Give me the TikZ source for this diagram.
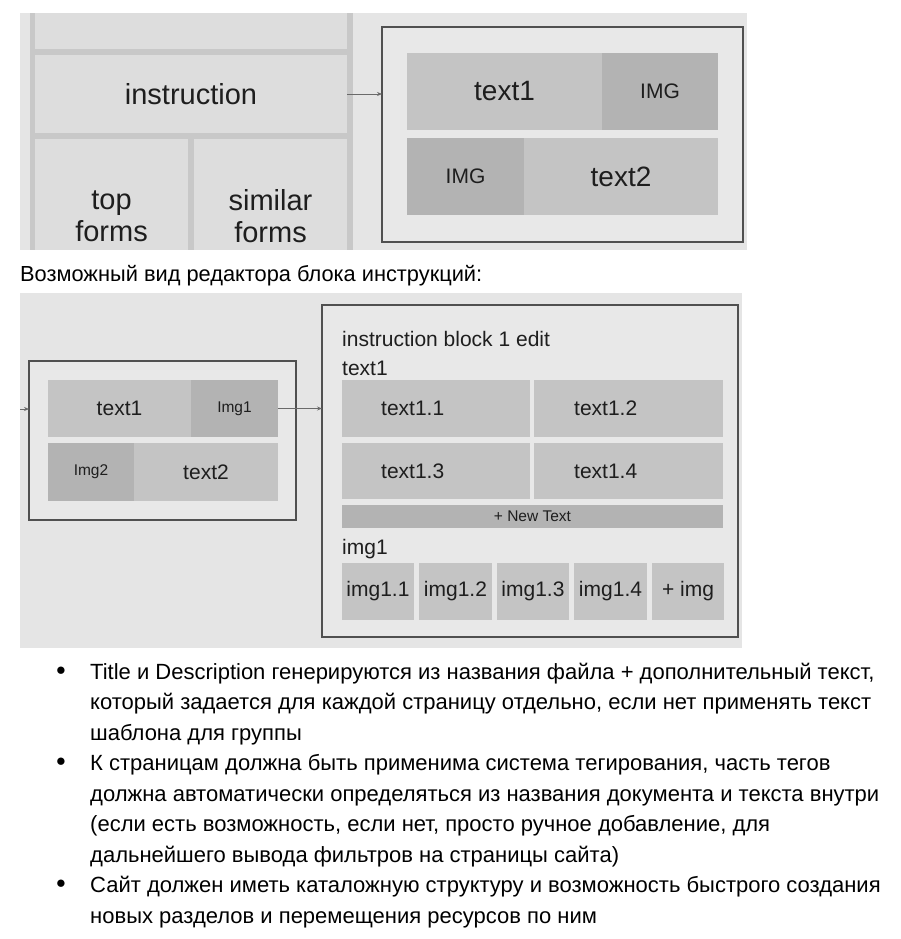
\documentclass[tikz,border=0pt]{standalone}
\usepackage{fontspec}
\setmainfont{Liberation Sans}
\usetikzlibrary{arrows.meta}
\definecolor{bgA}{HTML}{E5E5E5}
\definecolor{boxfill}{HTML}{E8E8E8}
\definecolor{colborder}{HTML}{C8C8C8}
\definecolor{colcell}{HTML}{DDDDDD}
\definecolor{txtcell}{HTML}{C4C4C4}
\definecolor{imgcell}{HTML}{B3B3B3}
\definecolor{frame}{HTML}{505050}
\definecolor{arrowc}{HTML}{6A6A6A}
\definecolor{ink}{HTML}{1E1E1E}
\tikzset{
  rc/.style={anchor=north west, inner sep=0pt, outer sep=0pt, draw=none, text=ink},
  tcell/.style={rc, fill=txtcell},
  icell/.style={rc, fill=imgcell},
  ccell/.style={rc, fill=colcell},
  framebox/.style={rc, fill=boxfill, draw=frame, line width=1.3pt},
  arr/.style={draw=arrowc, line width=0.8pt, -{Stealth[length=5pt,width=4pt]}},
  lbl/.style={inner sep=0pt, text=ink},
  big/.style={font=\fontsize{29}{32}\selectfont},
  mid/.style={font=\fontsize{28}{32}\selectfont},
  sm/.style={font=\fontsize{21}{24}\selectfont},
  ed/.style={font=\fontsize{21}{24}\selectfont},
  edsm/.style={font=\fontsize{15.5}{18}\selectfont},
  bl/.style={inner sep=0pt, anchor=base west, text=black, font=\fontsize{22}{26}\selectfont},
  dot/.style={inner sep=0pt, text=black, font=\fontsize{17}{18}\selectfont},
}
\begin{document}
\begin{tikzpicture}[x=1pt,y=-1pt]
\useasboundingbox (0,0) rectangle (901,939);
\fill[white] (0,0) rectangle (901,939);
% ---------- top panel ----------
\fill[bgA] (20,13) rectangle (747,250);
\fill[colborder] (30,13) rectangle (353,250);
\node[ccell, minimum width=312pt, minimum height=36pt] (topcell) at (35,13) {};
\node[ccell, big, minimum width=312pt, minimum height=78pt] (instr) at (35,55) {instruction};
\node[ccell, minimum width=153pt, minimum height=111pt] (topf) at (35,139) {};
\node[ccell, minimum width=153pt, minimum height=111pt] (simf) at (194,139) {};
\node[lbl, big, align=center] (topft) at (111.5,216) {top\\forms};
\node[lbl, big, align=center] (simft) at (270.5,216) {similar\\forms};
\node[framebox, minimum width=361pt, minimum height=215pt] (rbox) at (382,27) {};
\node[tcell, mid, minimum width=195pt, minimum height=77pt] (t1) at (407,53) {text1};
\node[icell, sm, minimum width=116pt, minimum height=77pt] (i1) at (602,53) {IMG};
\node[icell, sm, minimum width=117pt, minimum height=77pt] (i2) at (407,138) {IMG};
\node[tcell, mid, minimum width=194pt, minimum height=77pt] (t2) at (524,138) {text2};
\draw[arr] (instr.east) -- (instr.east -| rbox.west);
% ---------- caption ----------
\node[lbl, anchor=base west, text=black, font=\fontsize{21.8}{26}\selectfont] (cap) at (20,281) {Возможный вид редактора блока инструкций:};
% ---------- middle panel ----------
\fill[bgA] (20,293) rectangle (742,648);
\node[framebox, minimum width=267pt, minimum height=159pt] (lbox) at (29,361) {};
\node[tcell, ed, minimum width=143pt, minimum height=57pt] (mt1) at (48,380) {text1};
\node[icell, edsm, minimum width=87pt, minimum height=57pt] (mi1) at (191,380) {Img1};
\node[icell, edsm, minimum width=86pt, minimum height=58pt] (mi2) at (48,443) {Img2};
\node[tcell, ed, minimum width=144pt, minimum height=58pt] (mt2) at (134,443) {text2};
\node[framebox, minimum width=416pt, minimum height=332pt] (ebox) at (322,305) {};
\coordinate (instub) at (20,409);
\draw[arr] (instub) -- (instub -| lbox.west);
\draw[arr] (mi1.east) -- (mi1.east -| ebox.west);
\node[lbl, ed, anchor=base west] (etitle) at (342,346) {instruction block 1 edit};
\node[lbl, ed, anchor=base west] (etext) at (342,375) {text1};
\node[tcell, minimum width=188pt, minimum height=57pt] (c11) at (342,380) {};
\node[tcell, minimum width=189pt, minimum height=57pt] (c12) at (534,380) {};
\node[tcell, minimum width=188pt, minimum height=56pt] (c13) at (342,443) {};
\node[tcell, minimum width=189pt, minimum height=56pt] (c14) at (534,443) {};
\node[lbl, ed, anchor=west] (l11) at ([xshift=39pt]c11.west) {text1.1};
\node[lbl, ed, anchor=west] (l12) at ([xshift=40pt]c12.west) {text1.2};
\node[lbl, ed, anchor=west] (l13) at ([xshift=39pt]c13.west) {text1.3};
\node[lbl, ed, anchor=west] (l14) at ([xshift=40pt]c14.west) {text1.4};
\node[icell, edsm, minimum width=381pt, minimum height=23pt] (newt) at (342,505) {+ New Text};
\node[lbl, ed, anchor=base west] (eimg) at (342,554) {img1};
\node[tcell, ed, minimum width=72pt, minimum height=57pt] (g1) at (342,563) {img1.1};
\node[tcell, ed, minimum width=73pt, minimum height=57pt] (g2) at (419,563) {img1.2};
\node[tcell, ed, minimum width=72pt, minimum height=57pt] (g3) at (497,563) {img1.3};
\node[tcell, ed, minimum width=73pt, minimum height=57pt] (g4) at (574,563) {img1.4};
\node[tcell, ed, minimum width=72pt, minimum height=57pt] (g5) at (652,563) {+ img};
% ---------- bullets ----------
\node[dot] (b1) at (61,671) {●};
\node[dot] (b2) at (61,762.5) {●};
\node[dot] (b3) at (61,884.5) {●};
\node[bl] (l1) at (90,679) {Title и Description генерируются из названия файла + дополнительный текст,};
\node[bl] (l2) at (90,709.5) {который задается для каждой страницу отдельно, если нет применять текст};
\node[bl] (l3) at (90,740) {шаблона для группы};
\node[bl] (l4) at (90,770.5) {К страницам должна быть применима система тегирования, часть тегов};
\node[bl] (l5) at (90,801) {должна автоматически определяться из названия документа и текста внутри};
\node[bl] (l6) at (90,831.5) {(если есть возможность, если нет, просто ручное добавление, для};
\node[bl] (l7) at (90,862) {дальнейшего вывода фильтров на страницы сайта)};
\node[bl] (l8) at (90,892.5) {Сайт должен иметь каталожную структуру и возможность быстрого создания};
\node[bl] (l9) at (90,923) {новых разделов и перемещения ресурсов по ним};
\end{tikzpicture}
\end{document}
